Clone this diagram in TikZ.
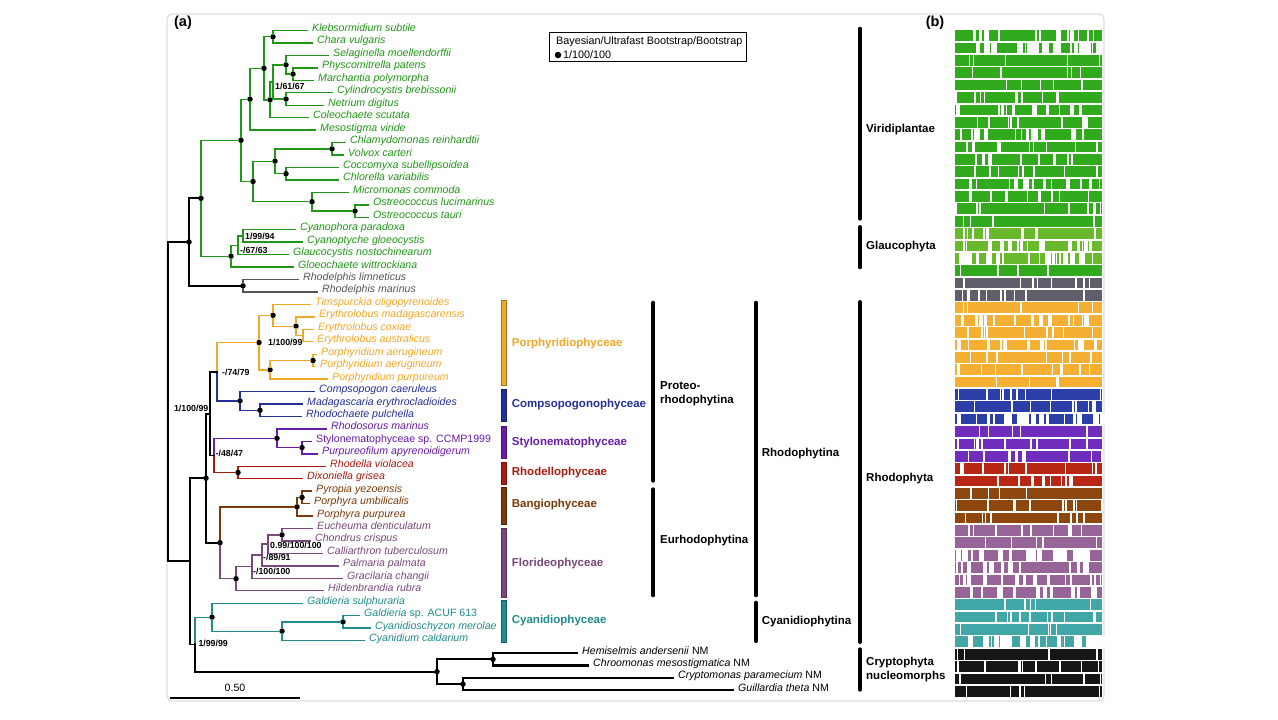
\documentclass[tikz,border=0pt]{standalone}
\usepackage{fontspec}
\setmainfont{Liberation Sans}
\usepackage{tikz}
\usetikzlibrary{positioning}
\definecolor{vgreen}{RGB}{34,150,24}
\definecolor{rgrey}{RGB}{85,85,85}
\definecolor{porange}{RGB}{240,168,40}
\definecolor{cblue}{RGB}{36,48,150}
\definecolor{spurple}{RGB}{104,28,168}
\definecolor{rred}{RGB}{168,28,16}
\definecolor{bbrown}{RGB}{122,58,10}
\definecolor{fmauve}{RGB}{122,72,122}
\definecolor{cteal}{RGB}{34,140,140}
\definecolor{framegrey}{RGB}{222,222,222}
\definecolor{rowgreen}{RGB}{50,170,30}
\definecolor{rowglauco}{RGB}{105,185,45}
\definecolor{rowgrey}{RGB}{95,95,108}
\definecolor{rowor}{RGB}{245,176,52}
\definecolor{rowblue}{RGB}{44,62,168}
\definecolor{rowpurp}{RGB}{112,44,188}
\definecolor{rowred}{RGB}{184,38,22}
\definecolor{rowbrown}{RGB}{140,70,14}
\definecolor{rowmauve}{RGB}{150,100,150}
\definecolor{rowteal}{RGB}{64,166,166}
\definecolor{rowblack}{RGB}{22,22,22}

\begin{document}
\begin{tikzpicture}[
    x=1pt, y=-1pt,
    every node/.style={font=\fontsize{10.6}{12}\selectfont},
    leaf/.style={anchor=base west, inner sep=0pt, font=\fontsize{10.6}{12}\selectfont\itshape},
    br/.style={line width=1.4pt, line cap=rect},
    stem/.style={line width=1.8pt, line cap=rect, black},
    dot/.style={circle, fill=black, inner sep=0pt, minimum size=5.5pt},
    support/.style={inner sep=0pt, font=\fontsize{8.8}{10}\selectfont\bfseries},
    cladelab/.style={anchor=west, inner sep=0pt, font=\fontsize{11.5}{13}\selectfont\bfseries},
    taxbar/.style={line width=4.2pt, line cap=round, black},
    taxlab/.style={anchor=west, inner sep=0pt, align=left, font=\fontsize{11.5}{14}\selectfont\bfseries}
]
\useasboundingbox (0,0) rectangle (1278,720);
\fill[white] (0,0) rectangle (1278,720);
\draw[framegrey, line width=1.2pt, rounded corners=5pt] (167,14) rectangle (1104,701);

\node[font=\fontsize{14.5}{16}\selectfont\bfseries] (panela) at (183,23) {(a)};
\node[font=\fontsize{14.5}{16}\selectfont\bfseries] (panelb) at (935,23) {(b)};

% tips
\foreach \i/\tx/\nm/\cl in {
 1/307/Klebsormidium subtile/vgreen,
 2/312/Chara vulgaris/vgreen,
 3/328/Selaginella moellendorffii/vgreen,
 4/317/Physcomitrella patens/vgreen,
 5/313/Marchantia polymorpha/vgreen,
 6/332/Cylindrocystis brebissonii/vgreen,
 7/323/Netrium digitus/vgreen,
 8/308/Coleochaete scutata/vgreen,
 9/315/Mesostigma viride/vgreen,
 10/345/Chlamydomonas reinhardtii/vgreen,
 11/343/Volvox carteri/vgreen,
 12/338/Coccomyxa subellipsoidea/vgreen,
 13/338/Chlorella variabilis/vgreen,
 14/348/Micromonas commoda/vgreen,
 15/368/Ostreococcus lucimarinus/vgreen,
 16/368/Ostreococcus tauri/vgreen,
 17/295/Cyanophora paradoxa/vgreen,
 18/302/Cyanoptyche gloeocystis/vgreen,
 19/288/Glaucocystis nostochinearum/vgreen,
 20/293/Gloeochaete wittrockiana/vgreen,
 21/298/Rhodelphis limneticus/rgrey,
 22/317/Rhodelphis marinus/rgrey,
 23/310/Timspurckia oligopyrenoides/porange,
 24/314/Erythrolobus madagascarensis/porange,
 25/313/Erythrolobus coxiae/porange,
 26/312/Erythrolobus australicus/porange,
 27/316/Porphyridium aerugineum/porange,
 28/315/Porphyridium aerugineum/porange,
 29/327/Porphyridium purpureum/porange,
 30/314/Compsopogon caeruleus/cblue,
 31/302/Madagascaria erythrocladioides/cblue,
 32/301/Rhodochaete pulchella/cblue,
 33/326/Rhodosorus marinus/spurple,
 34/311/\textup{Stylonematophyceae sp. CCMP1999}/spurple,
 35/317/Purpureofilum apyrenoidigerum/spurple,
 36/325/Rhodella violacea/rred,
 37/302/Dixoniella grisea/rred,
 38/311/Pyropia yezoensis/bbrown,
 39/309/Porphyra umbilicalis/bbrown,
 40/312/Porphyra purpurea/bbrown,
 41/312/Eucheuma denticulatum/fmauve,
 42/310/Chondrus crispus/fmauve,
 43/322/Calliarthron tuberculosum/fmauve,
 44/338/Palmaria palmata/fmauve,
 45/342/Gracilaria changii/fmauve,
 46/323/Hildenbrandia rubra/fmauve,
 47/302/Galdieria sulphuraria/cteal,
 48/359/Galdieria \textup{sp. ACUF 613}/cteal,
 49/370/Cyanidioschyzon merolae/cteal,
 50/364/Cyanidium caldarium/cteal,
 51/577/Hemiselmis andersenii \textup{NM}/black,
 52/588/Chroomonas mesostigmatica \textup{NM}/black,
 53/673/Cryptomonas paramecium \textup{NM}/black,
 54/733/Guillardia theta \textup{NM}/black}
{
  \coordinate (t\i) at (\tx,{30.5+12.45*(\i-1)});
  \node[leaf, text=\cl] (n\i) at ([shift={(5,1)}]t\i) {\nm};
}

% Viridiplantae and Glaucophyta
\node[dot] (kc) at (273,36.75) {};
\node[dot] (s7) at (293,74.1) {};
\node[dot] (s5) at (286,64.8) {};
\node[dot] (s6) at (286,99) {};
\coordinate (s4) at (273,81.9);
\node[dot] (s3) at (270,99.8) {};
\node[dot] (s2) at (264,68.3) {};
\node[dot] (s1) at (250,99.2) {};
\node[dot] (c4) at (332,148.8) {};
\node[dot] (c5) at (286,173.7) {};
\node[dot] (c2) at (275,161.2) {};
\node[dot] (c6) at (355,211) {};
\node[dot] (c3) at (312,201.7) {};
\node[dot] (c1) at (253,181.5) {};
\node[dot] (viri) at (241,140.3) {};
\coordinate (gl3) at (243,236);
\coordinate (gl2) at (238,245.3);
\node[dot] (gl1) at (231,256.2) {};
\node[dot] (plant) at (201,198.3) {};
\node[dot] (rhod) at (243,285.8) {};
\node[dot] (arch) at (189,242) {};

% red algae
\coordinate (p4) at (303,335.5);
\node[dot] (p3) at (296,326.2) {};
\node[dot] (p2) at (273,315.3) {};
\node[dot] (p6) at (313,360.5) {};
\node[dot] (p5) at (270,369.8) {};
\node[dot] (p1) at (259,342.5) {};
\node[dot] (b2) at (260,410.3) {};
\node[dot] (b1) at (240,400.9) {};
\coordinate (pb) at (217,371.7);
\node[dot] (st2) at (302,447.6) {};
\node[dot] (st1) at (277,438.3) {};
\node[dot] (rd) at (238,472.5) {};
\coordinate (sr) at (214,455.4);
\coordinate (proteo) at (210,413.6);
\node[dot] (bg2) at (302,497.4) {};
\node[dot] (bg1) at (297,506.8) {};
\node[dot] (f5) at (282,534.8) {};
\coordinate (f4) at (268,544.1);
\coordinate (f3) at (262,555);
\coordinate (f2) at (252,566.7);
\node[dot] (f1) at (236,578.7) {};
\node[dot] (eurho) at (220,542.7) {};
\node[dot] (pe) at (206,478.2) {};
\node[dot] (cy3) at (343,621.9) {};
\node[dot] (cy2) at (282,631.2) {};
\node[dot] (cyan) at (212,617.2) {};
\node[dot] (cr2) at (493,659.3) {};
\node[dot] (cr3) at (463,684.2) {};
\node[dot] (crypt) at (437,671.7) {};
\coordinate (cc) at (195,644.5);
\coordinate (red) at (190,561.3);
\coordinate (root) at (168,401.7);

\draw[br, vgreen] (kc) |- (t1) (kc) |- (t2) (s7) |- (t4) (s7) |- (t5)
  (s5) |- (t3) (s5) |- (s7) (s6) |- (t6) (s6) |- (t7) (s4) |- (s5) (s4) |- (s6)
  (s3) |- (s4) (s3) |- (t8) (s2) |- (kc) (s2) |- (s3) (s1) |- (s2) (s1) |- (t9)
  (c4) |- (t10) (c4) |- (t11) (c5) |- (t12) (c5) |- (t13) (c2) |- (c4) (c2) |- (c5)
  (c6) |- (t15) (c6) |- (t16) (c3) |- (t14) (c3) |- (c6) (c1) |- (c2) (c1) |- (c3)
  (viri) |- (s1) (viri) |- (c1) (gl3) |- (t17) (gl3) |- (t18) (gl2) |- (gl3) (gl2) |- (t19)
  (gl1) |- (gl2) (gl1) |- (t20) (plant) |- (viri) (plant) |- (gl1);
\draw[br, rgrey] (rhod) |- (t21) (rhod) |- (t22);
\draw[br, porange] (p4) |- (t25) (p4) |- (t26) (p3) |- (t24) (p3) |- (p4)
  (p2) |- (t23) (p2) |- (p3) (p6) |- (t27) (p6) |- (t28) (p5) |- (p6) (p5) |- (t29)
  (p1) |- (p2) (p1) |- (p5) (pb) |- (p1);
\draw[br, cblue] (b2) |- (t31) (b2) |- (t32) (b1) |- (t30) (b1) |- (b2) (pb) |- (b1);
\draw[br, spurple] (st2) |- (t34) (st2) |- (t35) (st1) |- (t33) (st1) |- (st2) (sr) |- (st1);
\draw[br, rred] (rd) |- (t36) (rd) |- (t37) (sr) |- (rd);
\draw[br, bbrown] (bg2) |- (t38) (bg2) |- (t39) (bg1) |- (bg2) (bg1) |- (t40) (eurho) |- (bg1);
\draw[br, fmauve] (f5) |- (t41) (f5) |- (t42) (f4) |- (f5) (f4) |- (t43) (f3) |- (f4) (f3) |- (t44)
  (f2) |- (f3) (f2) |- (t45) (f1) |- (f2) (f1) |- (t46) (eurho) |- (f1);
\draw[br, cteal] (cy3) |- (t48) (cy3) |- (t49) (cy2) |- (cy3) (cy2) |- (t50)
  (cyan) |- (t47) (cyan) |- (cy2) (cc) |- (cyan);
\draw[stem, line width=2.1pt] (cr2) |- (t51) (cr2) |- (t52) (cr3) |- (t53) (cr3) |- (t54)
  (crypt) |- (cr2) (crypt) |- (cr3) (cc) |- (crypt);
\draw[stem] (arch) |- (plant) (arch) |- (rhod) (proteo) |- (pb) (proteo) |- (sr)
  (pe) |- (proteo) (pe) |- (eurho) (red) |- (pe) (red) |- (cc) (root) |- (arch) (root) |- (red);

% support values
\node[support, anchor=west] (sv1) at (275,86) {1/61/67};
\node[support, anchor=west] (sv2) at (245,236) {1/99/94};
\node[support, anchor=west] (sv3) at (240,250) {-/67/63};
\node[support, anchor=west] (sv4) at (268,342) {1/100/99};
\node[support, anchor=west] (sv5) at (222,372) {-/74/79};
\node[support, anchor=east] (sv6) at (208.5,408) {1/100/99};
\node[support, anchor=west] (sv7) at (215.5,453.5) {-/48/47};
\node[support, anchor=west] (sv8) at (270,545) {0.99/100/100};
\node[support, anchor=west] (sv9) at (263,557.7) {-/89/91};
\node[support, anchor=west] (sv10) at (253,571.7) {-/100/100};
\node[support, anchor=west] (sv11) at (198.3,643.5) {1/99/99};

% legend
\node[draw, line width=1pt, minimum width=197pt, minimum height=28.5pt, inner sep=0pt] (legend) at (648,47) {};
\node[anchor=west, inner sep=0pt, font=\fontsize{10.8}{12}\selectfont] (legtitle) at (556,41.7) {Bayesian/Ultrafast Bootstrap/Bootstrap};
\node[dot, minimum size=6.5pt] (legdot) at (558,55) {};
\node[anchor=west, inner sep=0pt, font=\fontsize{10.8}{12}\selectfont] (legval) at (563,55) {1/100/100};

% scale bar
\coordinate (sb0) at (170,698);
\coordinate (sb1) at (300,698);
\draw[line width=1.2pt] (sb0) -- (sb1) node[midway, above=2pt] (sblab) {0.50};

% class bars
\draw[fill=porange, draw=porange!70!black, line width=0.6pt] (501.7,300.7) rectangle (506.7,385);
\draw[fill=cblue, draw=cblue!70!black, line width=0.6pt] (501.7,389) rectangle (506.7,421.7);
\draw[fill=spurple, draw=spurple!70!black, line width=0.6pt] (501.7,426) rectangle (506.7,458.3);
\draw[fill=rred, draw=rred!70!black, line width=0.6pt] (501.7,462.7) rectangle (506.7,484);
\draw[fill=bbrown, draw=bbrown!70!black, line width=0.6pt] (501.7,487.3) rectangle (506.7,524.5);
\draw[fill=fmauve, draw=fmauve!70!black, line width=0.6pt] (501.7,528.5) rectangle (506.7,597.3);
\draw[fill=cteal, draw=cteal!70!black, line width=0.6pt] (501.7,600.7) rectangle (506.7,642.5);
\node[cladelab, text=porange] (porph) at (511.7,344) {Porphyridiophyceae};
\node[cladelab, text=cblue] (compso) at (511.7,405) {Compsopogonophyceae};
\node[cladelab, text=spurple] (stylo) at (511.7,442.3) {Stylonematophyceae};
\node[cladelab, text=rred] (rhodello) at (511.7,472.3) {Rhodellophyceae};
\node[cladelab, text=bbrown] (bangio) at (511.7,505) {Bangiophyceae};
\node[cladelab, text=fmauve] (florid) at (511.7,563.3) {Florideophyceae};
\node[cladelab, text=cteal] (cyanido) at (511.7,620.7) {Cyanidiophyceae};

% higher taxa
\draw[taxbar] (653.3,302.8) -- (653.3,480.6);
\draw[taxbar] (653.3,489.4) -- (653.3,595.2);
\draw[taxbar] (756,302.8) -- (756,595.2);
\draw[taxbar] (756,602.8) -- (756,641);
\draw[taxbar] (860,28.8) -- (860,218.6);
\draw[taxbar] (860,227.1) -- (860,267.2);
\draw[taxbar] (860,302.1) -- (860,641.9);
\draw[taxbar] (860,649.4) -- (860,689.6);
\node[taxlab] (proteolab) at (660,394.2) {Proteo-\\rhodophytina};
\node[taxlab] (eurholab) at (660,540.7) {Eurhodophytina};
\node[taxlab] (rhodolab) at (761.7,453.3) {Rhodophytina};
\node[taxlab] (cyanlab) at (761.7,621.7) {Cyanidiophytina};
\node[taxlab] (virilab) at (866,129.3) {Viridiplantae};
\node[taxlab] (glaulab) at (866,246.7) {Glaucophyta};
\node[taxlab] (rhphlab) at (866,478.3) {Rhodophyta};
\node[taxlab] (cryplab) at (866,669.7) {Cryptophyta\\nucleomorphs};

% panel (b)
\pgfmathsetseed{4}
\foreach \j/\rc/\ng/\mw in {
 1/rowgreen/16/3.5, 2/rowgreen/26/6, 3/rowgreen/5/0.8, 4/rowgreen/5/0.8,
 5/rowgreen/5/0.8, 6/rowgreen/9/2, 7/rowgreen/16/3.5, 8/rowgreen/9/2,
 9/rowgreen/16/3.5, 10/rowgreen/9/2, 11/rowgreen/9/2, 12/rowgreen/9/2,
 13/rowgreen/16/3.5, 14/rowgreen/9/2, 15/rowgreen/9/2, 16/rowgreen/5/0.8,
 17/rowglauco/9/2, 18/rowglauco/16/3.5, 19/rowglauco/26/6, 20/rowgreen/5/0.8,
 21/rowgrey/9/2, 22/rowgrey/9/2, 23/rowor/5/0.8, 24/rowor/16/3.5,
 25/rowor/9/2, 26/rowor/16/3.5, 27/rowor/9/2, 28/rowor/9/2,
 29/rowor/5/0.8, 30/rowblue/9/2, 31/rowblue/9/2, 32/rowblue/26/6,
 33/rowpurp/5/0.8, 34/rowpurp/9/2, 35/rowpurp/9/2, 36/rowred/9/2,
 37/rowred/9/2, 38/rowbrown/5/0.8, 39/rowbrown/9/2, 40/rowbrown/9/2,
 41/rowmauve/9/2, 42/rowmauve/5/0.8, 43/rowmauve/26/6, 44/rowmauve/16/3.5,
 45/rowmauve/16/3.5, 46/rowmauve/16/3.5, 47/rowteal/5/0.8, 48/rowteal/9/2,
 49/rowteal/5/0.8, 50/rowteal/26/6, 51/rowblack/5/0.8, 52/rowblack/9/2,
 53/rowblack/5/0.8, 54/rowblack/5/0.8}
{
  \pgfmathsetmacro\rtop{30.3+12.37*(\j-1)}
  \fill[\rc] (955,\rtop) rectangle (1101.5,\rtop+10.7);
  \foreach \k in {1,...,\ng}{
    \pgfmathsetmacro\gx{955+146.5*rnd}
    \pgfmathsetmacro\gw{0.7+\mw*rnd}
    \fill[white] (\gx,\rtop) rectangle ++(\gw,10.7);
  }
}
\end{tikzpicture}
\end{document}
